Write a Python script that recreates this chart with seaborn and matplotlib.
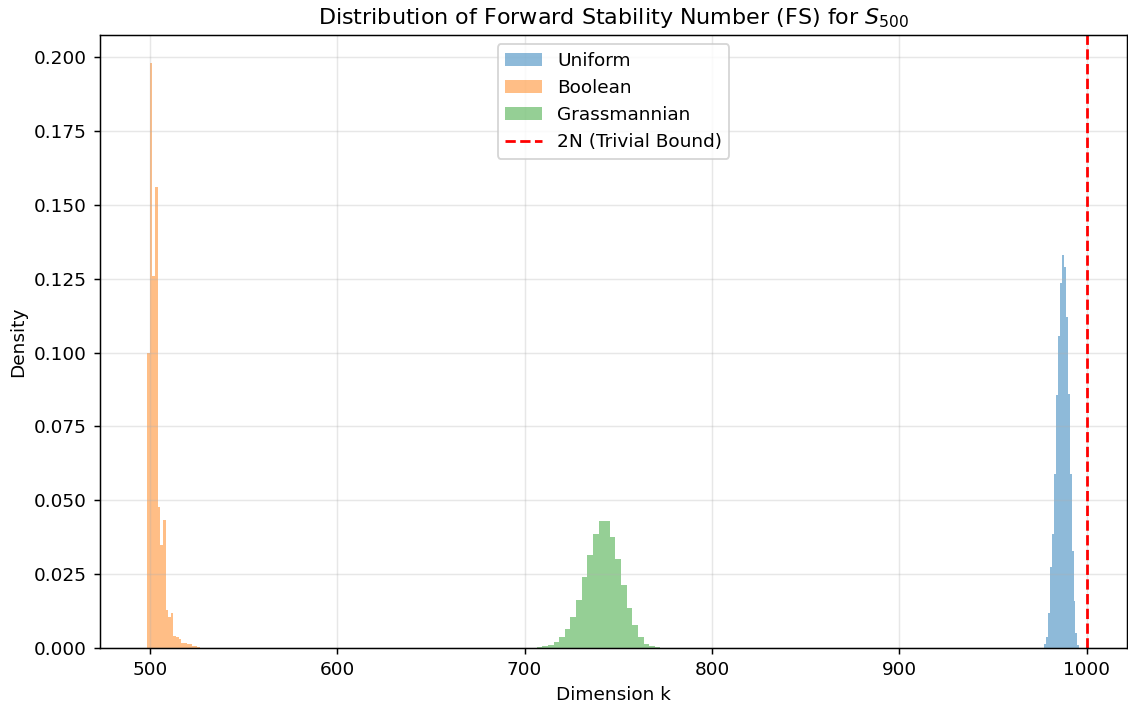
import matplotlib
matplotlib.use("Agg")
import matplotlib.pyplot as plt
import numpy as np
import pandas as pd
import seaborn as sns

# Histogram densities (bin edges + height per bin)
uniform_edges = [977.2 + 1.05 * i for i in range(19)]
uniform_density = [0.0014, 0.0038, 0.0117, 0.0275, 0.0387, 0.059, 0.0855, 0.1055,
                   0.1237, 0.133, 0.129, 0.112, 0.086, 0.059, 0.033, 0.016, 0.005, 0.001]

boolean_edges = [498.6 + 1.4 * i for i in range(21)]
boolean_density = [0.100, 0.198, 0.126, 0.156, 0.0476, 0.0348, 0.0433, 0.0128, 0.0105, 0.0119,
                   0.004, 0.0036, 0.003, 0.0016, 0.0016, 0.0012, 0.0012, 0.0008, 0.0006, 0.0004]

grass_edges = [706.5 + 3 * i for i in range(23)]
grass_density = [0.0005, 0.0007, 0.0010, 0.0019, 0.0038, 0.0065, 0.0105, 0.0164, 0.0240, 0.0316,
                 0.0387, 0.0429, 0.0429, 0.0375, 0.0302, 0.0213, 0.0137, 0.0079, 0.0038, 0.0015,
                 0.0008, 0.0005]

series = [
    ("Uniform", uniform_edges, uniform_density, "tab:blue"),
    ("Boolean", boolean_edges, boolean_density, "tab:orange"),
    ("Grassmannian", grass_edges, grass_density, "tab:green"),
]
bound = 1000

DPI = 1128 / 8.46
fig = plt.figure(figsize=(8.46, 706 / DPI), dpi=DPI)
ax = fig.add_axes([100 / 1128, 1 - 648 / 706, 1027 / 1128, (648 - 35) / 706])

for name, edges, dens, col in series:
    e = np.array(edges)
    df = pd.DataFrame({"k": (e[:-1] + e[1:]) / 2, "w": dens})
    sns.histplot(data=df, x="k", weights="w", bins=list(edges), stat="count", color=col,
                 alpha=0.5, linewidth=0, label=name, ax=ax)

ax.axvline(bound, color="red", linestyle="--", linewidth=1.5, label="2N (Trivial Bound)")

ax.set_xlim(473.4, 1021.5)
ax.set_ylim(0, 0.2075)
ax.set_title("Distribution of Forward Stability Number (FS) for $S_{500}$", fontsize=12)
ax.set_xlabel("Dimension k")
ax.set_ylabel("Density")
ax.grid(True, alpha=0.3)

handles, labels = ax.get_legend_handles_labels()
order = [labels.index(n) for n in ["Uniform", "Boolean", "Grassmannian", "2N (Trivial Bound)"]]
ax.legend([handles[i] for i in order], [labels[i] for i in order], loc="upper center")

fig.savefig("out.png", dpi=DPI)
